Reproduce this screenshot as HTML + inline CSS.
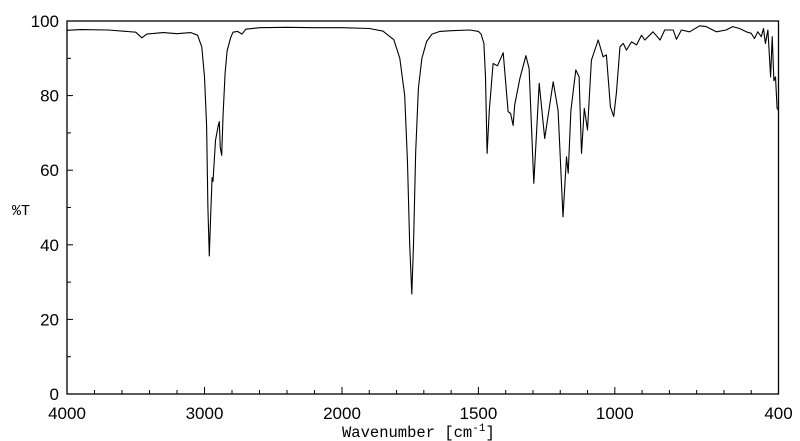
<!DOCTYPE html>
<html><head><meta charset="utf-8"><style>
body{margin:0;background:#fff;width:800px;height:441px;overflow:hidden}
svg{display:block}
</style></head><body>
<svg id="chart" width="800" height="441" xmlns="http://www.w3.org/2000/svg"></svg>
<script>
const wavenumbers=[4000,3900,3700,3500,3455,3420,3300,3200,3100,3050,3020,3000,2985,2975,2965,2955,2945,2938,2920,2900,2892,2885,2875,2865,2850,2836,2810,2793,2760,2727,2700,2600,2400,2200,2000,1900,1850,1810,1788,1770,1760,1752,1744,1738,1730,1720,1707,1690,1670,1641,1600,1531,1500,1490,1480,1474,1468,1460,1446,1430,1409,1391,1382,1373,1367,1348,1326,1314,1297,1277,1257,1226,1208,1190,1177,1171,1161,1143,1131,1122,1112,1100,1086,1061,1043,1031,1016,1004,994,981,969,957,939,920,902,890,860,834,817,786,774,756,726,689,665,628,592,568,543,518,500,488,476,463,455,448,439,429,423,417,411,405,400];
const transmittance=[97.5,97.7,97.6,97,95.5,96.5,96.9,96.6,96.9,96.2,93,85,72,50,37,48,58,57,68,72,73,66,64,75,86,92,95.5,97,97.2,96.5,97.8,98.2,98.3,98.2,98.2,98,97.3,95,90,80,62,40,26.8,40,65,82,90,94.5,96.5,97.2,97.4,97.6,97.2,96.5,94,85,64.5,76,88.6,88,91.5,75.7,75.2,72,77.5,84.6,90.7,87.3,56.5,83.3,68.5,83.7,76,47.5,63.6,59.2,76,86.9,85,64.5,76.6,70.8,89.5,94.9,90.4,90.9,77,74.4,80.7,93.1,94,92.2,94.4,93.6,96.2,94.9,97.1,94.9,97.6,97.6,95.1,97.6,97.1,98.7,98.5,97.1,97.6,98.5,98,97.1,96.7,95.3,97.1,95.8,98,94,97.6,85,95.8,84,85,76.6,76];
const yTicks=[0,20,40,60,80,100];
const xTickLabels=[4000,3000,2000,1500,1000,400];
const NS='http://www.w3.org/2000/svg';
const svg=document.getElementById('chart');
const L=67,R=778.5,T=21,B=394;
const SANS='"Liberation Sans", Arial, sans-serif';
const MONO='"Liberation Mono", "Courier New", monospace';
function xs(w){return w>=2000? L+(4000-w)*(342-L)/2000 : 342+(2000-w)*(R-342)/1600;}
function ys(v){return B-(v/100)*(B-T);}
function mk(tag,attrs){const e=document.createElementNS(NS,tag);for(const k in attrs)e.setAttribute(k,attrs[k]);svg.appendChild(e);return e;}
let frame=mk('rect',{x:L,y:T,width:R-L,height:B-T,fill:'none',stroke:'#000','stroke-width':1.3});


for(let v=0;v<=100;v+=10){
  const big=v%20===0;
  const t=mk('line',{x1:L,x2:L+(big?6:4),y1:ys(v),y2:ys(v),stroke:'#000','stroke-width':1});
  
  
}
yTicks.forEach(v=>{
  const t=mk('text',{x:L-8,y:ys(v)+6,'text-anchor':'end','font-family':SANS,'font-size':17});t.textContent=v;
  
  
});
for(let w=4000;w>=400;w-=(w>2000?200:100)){
  const big=(w%1000===0)||w===1500;
  const t=mk('line',{x1:xs(w),x2:xs(w),y1:B,y2:B-(big?7:4),stroke:'#000','stroke-width':1});
  
  
}
xTickLabels.forEach(w=>{
  const t=mk('text',{x:xs(w),y:419,'text-anchor':'middle','font-family':SANS,'font-size':17});t.textContent=w;
  
  
});
let d='';
wavenumbers.forEach((w,i)=>{d+=(i?'L':'M')+xs(w).toFixed(1)+' '+ys(transmittance[i]).toFixed(1);});
const p=mk('path',{d:d,fill:'none',stroke:'#000','stroke-width':1.1,'stroke-linejoin':'round'});


const yl=mk('text',{x:12,y:215,'font-family':MONO,'font-size':15});yl.textContent='%T';


const xl=mk('text',{x:342,y:437,'font-family':MONO,'font-size':15.5});
xl.innerHTML='Wavenumber [cm<tspan dy="-6" font-size="11">-1</tspan><tspan dy="6">]</tspan>';


</script>
</body></html>
